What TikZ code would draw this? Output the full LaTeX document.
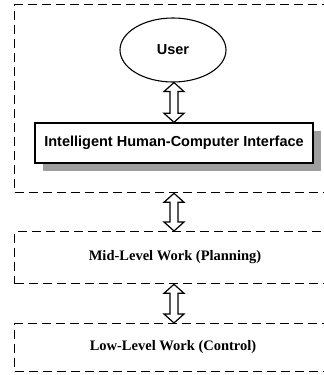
\documentclass[tikz,border=0pt]{standalone}
\usepackage{fontspec}
\newfontfamily\labelsans{Liberation Sans}
\newfontfamily\labelserif{Liberation Serif}
\usetikzlibrary{shapes.geometric,shadows,calc}

\tikzset{
  layer/.style={draw, line width=1.3pt, dash pattern=on 9pt off 5pt,
    anchor=north west, inner sep=0pt, minimum width=330pt},
  userbubble/.style={draw, ellipse, line width=1.1pt, inner sep=0pt,
    minimum width=106pt, minimum height=64pt,
    font=\labelsans\bfseries\fontsize{14.5}{16}\selectfont},
  interface/.style={draw, fill=white, line width=1.4pt, inner sep=0pt,
    minimum width=278pt, minimum height=40pt,
    font=\labelsans\bfseries\fontsize{14.5}{16}\selectfont,
    drop shadow={shadow xshift=8pt, shadow yshift=-8pt,
      fill=black!38, opacity=1}},
  layertext/.style={font=\labelserif\bfseries\fontsize{14.5}{16}\selectfont},
  arrowshape/.style={draw, fill=white, line width=1.2pt, line join=miter}
}

% hollow two-headed arrow between a top point and a bottom point
\newcommand\hollowarrow[2]{%
  \path[arrowshape] (#1)
    -- ($(#1)+(10pt,-9pt)$) -- ($(#1)+(4pt,-9pt)$)
    -- ($(#2)+(4pt,9pt)$) -- ($(#2)+(10pt,9pt)$)
    -- (#2)
    -- ($(#2)+(-10pt,9pt)$) -- ($(#2)+(-4pt,9pt)$)
    -- ($(#1)+(-4pt,-9pt)$) -- ($(#1)+(-10pt,-9pt)$)
    -- cycle;}

\begin{document}
\begin{tikzpicture}[x=1pt,y=-1pt]
  \useasboundingbox (0,0) rectangle (324,375);
  \clip (0,0) rectangle (324,375);

  % the three work levels
  \node[layer, minimum height=188pt] (top) at (14,4) {};
  \node[layer, minimum height=52pt] (mid) at (14,231) {};
  \node[layer, minimum height=48pt] (low) at (14,323) {};

  % user and interface
  \node[userbubble] (user) at (173,50) {User};
  \node[interface] (hci) at (174,143) {Intelligent Human-Computer Interface};

  % level captions
  \node[layertext] (midtext) at (175,257) {Mid-Level Work (Planning)};
  \node[layertext] (lowtext) at (173,347) {Low-Level Work (Control)};

  % connection points of the arrows
  \coordinate (a1s) at (user.south -| hci);
  \coordinate (a1e) at (hci.north);
  \coordinate (a2s) at (top.south -| hci);
  \coordinate (a2e) at (mid.north -| hci);
  \coordinate (a3s) at (mid.south -| hci);
  \coordinate (a3e) at (low.north -| hci);

  \hollowarrow{a1s}{a1e}
  \hollowarrow{a2s}{a2e}
  \hollowarrow{a3s}{a3e}
\end{tikzpicture}
\end{document}
